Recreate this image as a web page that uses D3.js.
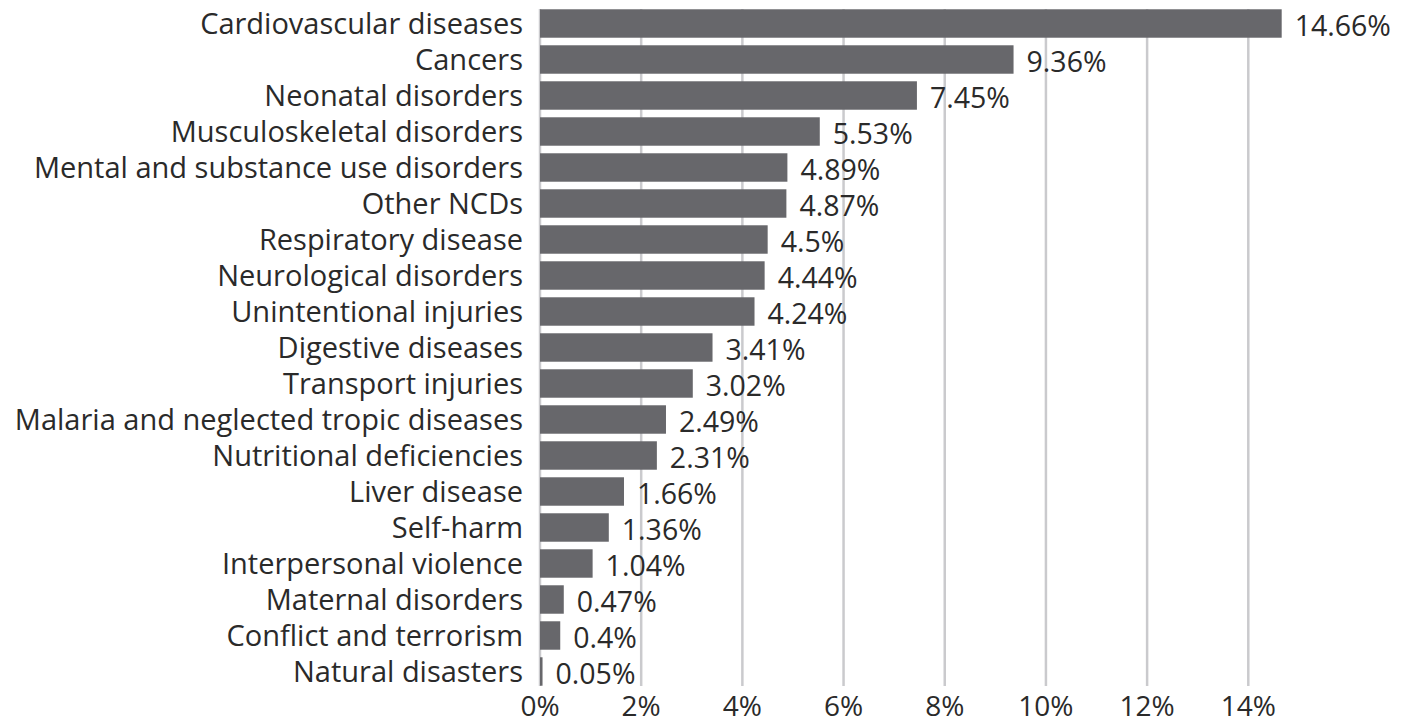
<!DOCTYPE html>
<html lang="en">
<head>
  <meta charset="utf-8" />
  <title>Causes share</title>
  <style>
    html, body { margin: 0; background: #fff; }
    svg { display: block; }
    text { font-family: "Open Sans", Lato, sans-serif; fill: #2a2a2a; }
  </style>
  <script src="https://cdn.jsdelivr.net/npm/d3@7"></script>
</head>
<body>
<script>
// categories, top to bottom
const causes = [
  "Cardiovascular diseases", "Cancers", "Neonatal disorders", "Musculoskeletal disorders",
  "Mental and substance use disorders", "Other NCDs", "Respiratory disease",
  "Neurological disorders", "Unintentional injuries", "Digestive diseases",
  "Transport injuries", "Malaria and neglected tropic diseases", "Nutritional deficiencies",
  "Liver disease", "Self-harm", "Interpersonal violence", "Maternal disorders",
  "Conflict and terrorism", "Natural disasters"
];
const shares = [14.66, 9.36, 7.45, 5.53, 4.89, 4.87, 4.5, 4.44, 4.24, 3.41, 3.02, 2.49, 2.31, 1.66, 1.36, 1.04, 0.47, 0.4, 0.05];
const labels = ["14.66%", "9.36%", "7.45%", "5.53%", "4.89%", "4.87%", "4.5%", "4.44%", "4.24%", "3.41%", "3.02%", "2.49%", "2.31%", "1.66%", "1.36%", "1.04%", "0.47%", "0.4%", "0.05%"];
const ticks = [0, 2, 4, 6, 8, 10, 12, 14];

const W = 1415, H = 725;
const svg = d3.select("body").append("svg").attr("width", W).attr("height", H);

const x = d3.scaleLinear().domain([0, 14]).range([540, 1248.3]);
const y = d3.scaleBand().domain(causes).range([5.5, 689.5]).paddingInner(0.21).paddingOuter(0.105);

// gridlines
svg.append("g").selectAll("line").data(ticks).join("line")
  .attr("x1", d => x(d)).attr("x2", d => x(d))
  .attr("y1", 9).attr("y2", 686)
  .attr("stroke", "#cacacd").attr("stroke-width", 2.5);

// bars
svg.append("g").selectAll("rect").data(shares).join("rect")
  .attr("x", x(0))
  .attr("y", (d, i) => y(causes[i]))
  .attr("width", d => x(d) - x(0))
  .attr("height", y.bandwidth())
  .attr("fill", "#67676b");

// value labels
svg.append("g").selectAll("text").data(shares).join("text")
  .attr("x", d => x(d) + 13)
  .attr("y", (d, i) => y(causes[i]) + y.bandwidth() / 2 + 12)
  .attr("font-size", 28.5)
  .text((d, i) => labels[i]);

// category labels
svg.append("g").selectAll("text").data(causes).join("text")
  .attr("x", 523)
  .attr("y", d => y(d) + y.bandwidth() / 2 + 10)
  .attr("text-anchor", "end")
  .attr("font-size", 29)
  .text(d => d);

// x axis tick labels
svg.append("g").selectAll("text").data(ticks).join("text")
  .attr("x", d => x(d))
  .attr("y", 716)
  .attr("text-anchor", "middle")
  .attr("font-size", 28)
  .text(d => d + "%");
</script>
</body>
</html>
